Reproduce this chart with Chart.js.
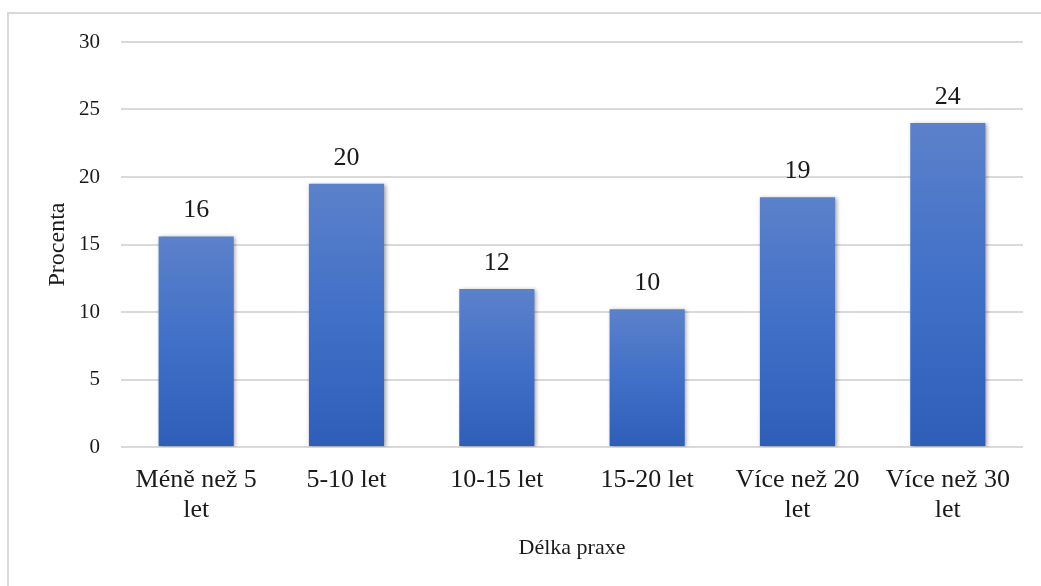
<!DOCTYPE html>
<html>
<head>
<meta charset="utf-8">
<script src="https://cdn.jsdelivr.net/npm/chart.js@4/dist/chart.umd.min.js"></script>
<style>
  html, body { margin: 0; padding: 0; background: #ffffff; overflow: hidden; }
  #wrap { position: relative; width: 1041px; height: 586px; overflow: hidden; background: #fff; }
  #frame { position: absolute; left: 7px; top: 12px; width: 1200px; height: 800px;
           border-left: 2px solid #d9d9d9; border-top: 2px solid #d9d9d9; }
  #c { position: absolute; left: 0; top: 0; }
</style>
</head>
<body>
<div id="wrap">
  <div id="frame"></div>
  <canvas id="c" width="1041" height="586"></canvas>
</div>
<script>
// ---- data ----
const categories = [
  ['Méně než 5', 'let'],
  '5-10 let',
  '10-15 let',
  '15-20 let',
  ['Více než 20', 'let'],
  ['Více než 30', 'let']
];
const values = [15.6, 19.5, 11.7, 10.2, 18.5, 24.0];
const valueLabels = ['16', '20', '12', '10', '19', '24'];
const yTicks = [0, 5, 10, 15, 20, 25, 30];
const xTitle = 'Délka praxe';
const yTitle = 'Procenta';

const FONT = '"Liberation Serif", "Times New Roman", serif';
const TEXT = '#1a1a1a';

const barShadow = {
  id: 'barShadow',
  beforeDatasetsDraw(chart) {
    const ctx = chart.ctx;
    ctx.save();
    ctx.shadowColor = 'rgba(0,0,0,0.35)';
    ctx.shadowBlur = 4;
    ctx.shadowOffsetX = 1.5;
    ctx.shadowOffsetY = 1;
  },
  afterDatasetsDraw(chart) {
    chart.ctx.restore();
  }
};

const valueLabelPlugin = {
  id: 'valueLabels',
  afterDatasetsDraw(chart) {
    const ctx = chart.ctx;
    const meta = chart.getDatasetMeta(0);
    ctx.save();
    ctx.font = '26px ' + FONT;
    ctx.fillStyle = TEXT;
    ctx.textAlign = 'center';
    ctx.textBaseline = 'alphabetic';
    meta.data.forEach((bar, i) => {
      ctx.fillText(valueLabels[i], bar.x, bar.y - 19);
    });
    ctx.restore();
  }
};

function barGradient(context) {
  const chart = context.chart;
  if (!chart.chartArea || context.type !== 'data') return '#4472c4';
  const ys = chart.scales.y;
  const top = ys.getPixelForValue(context.raw);
  const bottom = ys.getPixelForValue(0);
  const g = chart.ctx.createLinearGradient(0, top, 0, bottom);
  g.addColorStop(0, '#5b81ca');
  g.addColorStop(0.5, '#4170c8');
  g.addColorStop(1, '#2e5eb8');
  return g;
}

new Chart(document.getElementById('c'), {
  type: 'bar',
  data: {
    labels: categories,
    datasets: [{
      data: values,
      backgroundColor: barGradient,
      borderWidth: 0,
      barPercentage: 0.5,
      categoryPercentage: 1.0
    }]
  },
  options: {
    responsive: false,
    animation: false,
    devicePixelRatio: 1,
    layout: { padding: { left: 0, right: 18, top: 42, bottom: 0 } },
    plugins: {
      legend: { display: false },
      tooltip: { enabled: false }
    },
    scales: {
      x: {
        grid: { display: false, drawTicks: false },
        border: { display: false },
        ticks: {
          font: { family: FONT, size: 26, lineHeight: '30px' },
          color: TEXT,
          padding: 18,
          maxRotation: 0,
          autoSkip: false
        },
        title: {
          display: true,
          text: xTitle,
          font: { family: FONT, size: 22, lineHeight: 1.2 },
          color: TEXT,
          padding: { top: 0, bottom: 25 }
        },
        afterFit(scale) { scale.height = 139; }
      },
      y: {
        min: 0,
        max: 30,
        afterBuildTicks(scale) { scale.ticks = yTicks.map(v => ({ value: v })); },
        grid: { color: '#d9d9d9', lineWidth: 2, drawTicks: false },
        border: { display: false },
        ticks: {
          font: { family: FONT, size: 21 },
          color: TEXT,
          padding: 21
        },
        title: {
          display: true,
          text: yTitle,
          font: { family: FONT, size: 24, lineHeight: 1.2 },
          color: TEXT,
          padding: { top: 43, bottom: 0 }
        },
        afterFit(scale) { scale.width = 121; }
      }
    }
  },
  plugins: [barShadow, valueLabelPlugin]
});
</script>
</body>
</html>
